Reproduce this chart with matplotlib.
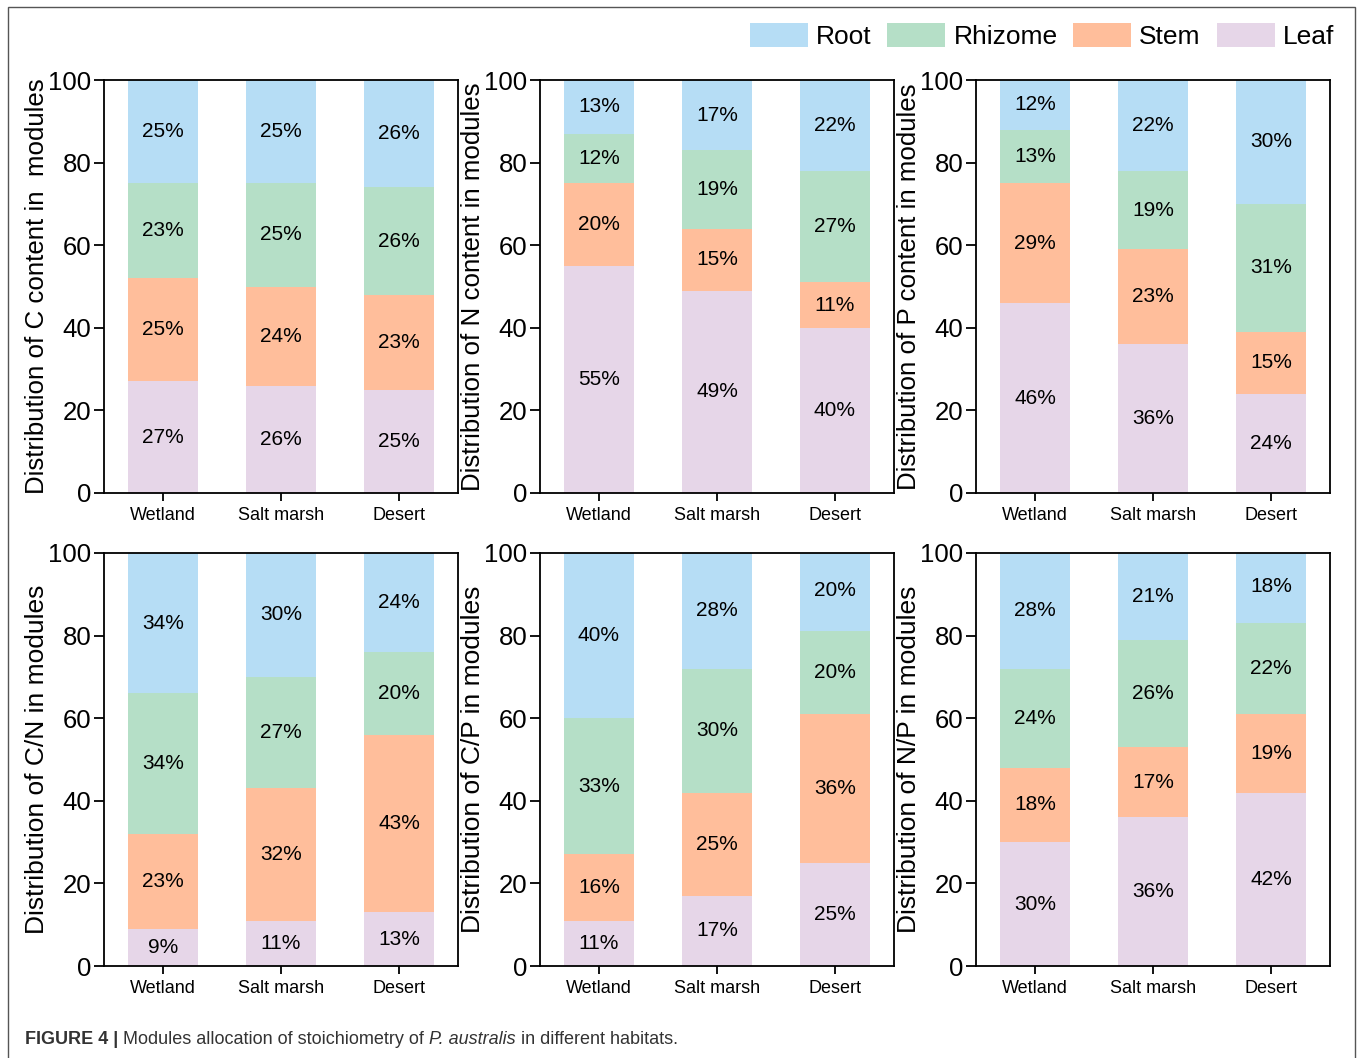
import numpy as np
import matplotlib.pyplot as plt
from matplotlib.patches import Rectangle, Patch

plt.rcParams['font.family'] = ['Liberation Sans', 'DejaVu Sans']

habitats = ['Wetland', 'Salt marsh', 'Desert']
parts = ['Leaf', 'Stem', 'Rhizome', 'Root']
colors = {'Root': '#b6ddf5', 'Rhizome': '#b5dfc7', 'Stem': '#ffbe9b', 'Leaf': '#e6d6e8'}

# percentages per module, one list per habitat order (Wetland, Salt marsh, Desert)
c_leaf, c_stem, c_rhizome, c_root = [27, 26, 25], [25, 24, 23], [23, 25, 26], [25, 25, 26]
n_leaf, n_stem, n_rhizome, n_root = [55, 49, 40], [20, 15, 11], [12, 19, 27], [13, 17, 22]
p_leaf, p_stem, p_rhizome, p_root = [46, 36, 24], [29, 23, 15], [13, 19, 31], [12, 22, 30]
cn_leaf, cn_stem, cn_rhizome, cn_root = [9, 11, 13], [23, 32, 43], [34, 27, 20], [34, 30, 24]
cp_leaf, cp_stem, cp_rhizome, cp_root = [11, 17, 25], [16, 25, 36], [33, 30, 20], [40, 28, 20]
np_leaf, np_stem, np_rhizome, np_root = [30, 36, 42], [18, 17, 19], [24, 26, 22], [28, 21, 18]

panels = [
    ('Distribution of C content in  modules', [c_leaf, c_stem, c_rhizome, c_root]),
    ('Distribution of N content in modules', [n_leaf, n_stem, n_rhizome, n_root]),
    ('Distribution of P content in modules', [p_leaf, p_stem, p_rhizome, p_root]),
    ('Distribution of C/N in modules', [cn_leaf, cn_stem, cn_rhizome, cn_root]),
    ('Distribution of C/P in modules', [cp_leaf, cp_stem, cp_rhizome, cp_root]),
    ('Distribution of N/P in modules', [np_leaf, np_stem, np_rhizome, np_root]),
]

W, H = 1360, 1058
fig = plt.figure(figsize=(W / 100, H / 100), dpi=100)

lefts = [104, 540, 976]
tops = [80, 553]
aw, ah = 354, 413

x = np.arange(len(habitats))
for i, (ylabel, series) in enumerate(panels):
    l = lefts[i % 3]
    t = tops[i // 3]
    ax = fig.add_axes([l / W, (H - t - ah) / H, aw / W, ah / H])
    bottom = np.zeros(len(habitats))
    for name, vals in zip(parts, series):
        vals = np.array(vals, dtype=float)
        ax.bar(x, vals, width=0.6, bottom=bottom, color=colors[name], linewidth=0)
        for xi, b, v in zip(x, bottom, vals):
            ax.text(xi, b + v / 2, f'{int(v)}%', ha='center', va='center', fontsize=15)
        bottom += vals
    ax.set_xlim(-0.5, 2.5)
    ax.set_ylim(0, 100)
    ax.set_yticks(range(0, 101, 20))
    ax.set_xticks(x)
    ax.set_xticklabels(habitats)
    ax.tick_params(axis='y', labelsize=18.5, length=7, width=1.3, pad=2)
    ax.tick_params(axis='x', labelsize=13, length=6, width=1.3, pad=4)
    for s in ax.spines.values():
        s.set_linewidth(1.3)
    ax.set_ylabel(ylabel, fontsize=18.6 if i < 3 else 19)
    ax.yaxis.set_label_coords(-0.155, 0.5)

handles = [Patch(facecolor=colors[n], edgecolor='none') for n in ['Root', 'Rhizome', 'Stem', 'Leaf']]
fig.legend(handles, ['Root', 'Rhizome', 'Stem', 'Leaf'], loc='upper right', ncol=4,
           bbox_to_anchor=(1334 / W, 1 - 23 / H), frameon=False, fontsize=19,
           handlelength=2.2, handleheight=1.05, handletextpad=0.3, columnspacing=0.6,
           borderpad=0, borderaxespad=0)

# outer frame of the figure panel
fig.patches.append(Rectangle((8 / W, -0.02), (1355 - 8) / W, (H - 7) / H + 0.02,
                             transform=fig.transFigure, fill=False, ec='#555555', lw=1.0))

# caption
cap_y = 1 - 1040 / H
t1 = fig.text(25 / W, cap_y, 'FIGURE 4 |', fontsize=13, fontweight='bold', color='#333333', va='center')
fig.canvas.draw()
r = fig.canvas.get_renderer()
x0 = t1.get_window_extent(r).x1 + 5
t2 = fig.text(x0 / W, cap_y, 'Modules allocation of stoichiometry of ', fontsize=13, color='#333333', va='center')
x0 = t2.get_window_extent(r).x1
t3 = fig.text(x0 / W, cap_y, 'P. australis', fontsize=13, style='italic', color='#333333', va='center')
x0 = t3.get_window_extent(r).x1
fig.text(x0 / W, cap_y, ' in different habitats.', fontsize=13, color='#333333', va='center')

fig.savefig('out.png', dpi=100)
